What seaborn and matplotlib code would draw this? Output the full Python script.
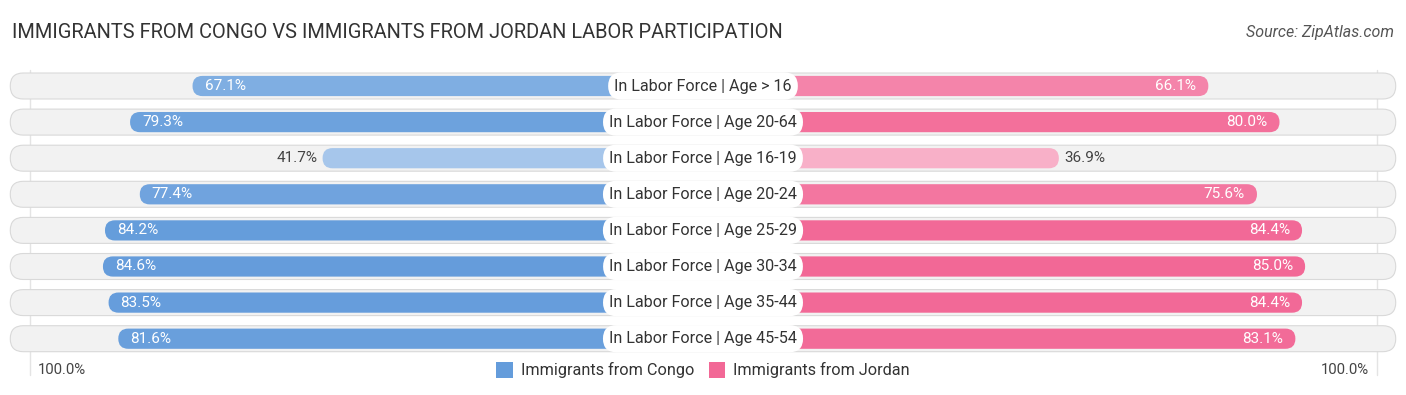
import pandas as pd
import numpy as np
import matplotlib.pyplot as plt
import matplotlib.colors as mcolors
from matplotlib.patches import FancyBboxPatch, Patch
import seaborn as sns

# data
categories = [
    "In Labor Force | Age > 16",
    "In Labor Force | Age 20-64",
    "In Labor Force | Age 16-19",
    "In Labor Force | Age 20-24",
    "In Labor Force | Age 25-29",
    "In Labor Force | Age 30-34",
    "In Labor Force | Age 35-44",
    "In Labor Force | Age 45-54",
]
congo = [67.1, 79.3, 41.7, 77.4, 84.2, 84.6, 83.5, 81.6]
jordan = [66.1, 80.0, 36.9, 75.6, 84.4, 85.0, 84.4, 83.1]
series_names = ["Immigrants from Congo", "Immigrants from Jordan"]

title = "IMMIGRANTS FROM CONGO VS IMMIGRANTS FROM JORDAN LABOR PARTICIPATION"
source = "Source: ZipAtlas.com"

# layout (x in percent units, 1 unit ~ 5.12 px; bars start behind the label)
OFFSET = 32.6
BLUE_STRONG, BLUE_LIGHT = "#649cdb", "#b0cdee"
PINK_STRONG, PINK_LIGHT = "#f26896", "#f8b3ca"


def shade(strong, light, v):
    t = np.clip((85 - v) / (85 - 35), 0, 1)
    a = np.array(mcolors.to_rgb(strong))
    b = np.array(mcolors.to_rgb(light))
    return tuple(a + (b - a) * t)


rows = []
for cat, c, j in zip(categories, congo, jordan):
    rows.append({"label": cat, "series": series_names[0], "value": c, "length": -(OFFSET + c)})
    rows.append({"label": cat, "series": series_names[1], "value": j, "length": OFFSET + j})
df = pd.DataFrame(rows)

sns.set_style("white")
plt.rcParams["font.family"] = ["Roboto", "DejaVu Sans"]

fig = plt.figure(figsize=(14.06, 3.95), dpi=100)
ax = fig.add_axes([0, 0, 1, 1])

sns.barplot(data=df, y="label", x="length", hue="series", orient="h", dodge=False,
            width=0.56, palette=[BLUE_STRONG, PINK_STRONG], legend=False, ax=ax)

px = 5.12          # pixels per x unit
py = 36.1          # pixels per row
aspect = px / py

ax.set_xlim(-703 / px, 703 / px)
ax.set_ylim((395 - 86) / py, -86 / py)
ax.axis("off")

# 100% guide lines
for xv in (-(703 - 30) / px, (1377 - 703) / px):
    ax.plot([xv, xv], [-0.45, 8.0], color="#e4e4e4", lw=1, zorder=0)

# background tracks
for i in range(len(categories)):
    track = FancyBboxPatch((-135.3, i - 0.36), 270.6, 0.72,
                           boxstyle="round,pad=0,rounding_size=%f" % (13 / px),
                           mutation_aspect=aspect, fc="#f2f2f2", ec="#d9d9d9",
                           lw=0.8, zorder=1)
    ax.add_patch(track)

# replace seaborn rectangles with rounded bars
bars = list(ax.patches)
for p in bars:
    if isinstance(p, FancyBboxPatch):
        continue
    x0, y0, w, h = p.get_x(), p.get_y(), p.get_width(), p.get_height()
    if w == 0:
        continue
    i = int(round(y0 + h / 2))
    if x0 + w / 2 < 0:
        col = shade(BLUE_STRONG, BLUE_LIGHT, congo[i])
    else:
        col = shade(PINK_STRONG, PINK_LIGHT, jordan[i])
    left = min(x0, x0 + w)
    rb = FancyBboxPatch((left, y0), abs(w), h,
                        boxstyle="round,pad=0,rounding_size=%f" % (10 / px),
                        mutation_aspect=aspect, fc=col, ec="none", zorder=2)
    ax.add_patch(rb)
    p.remove()

# value labels
pad = 12 / px
for i, (c, j) in enumerate(zip(congo, jordan)):
    xl = -(OFFSET + c)
    if c > 50:
        ax.text(xl + pad, i, f"{c:.1f}%", ha="left", va="center", color="white",
                fontsize=11, zorder=4)
    else:
        ax.text(xl - 5 / px, i, f"{c:.1f}%", ha="right", va="center", color="#444444",
                fontsize=11, zorder=4)
    xr = OFFSET + j
    if j > 50:
        ax.text(xr - pad, i, f"{j:.1f}%", ha="right", va="center", color="white",
                fontsize=11, zorder=4)
    else:
        ax.text(xr + 5 / px, i, f"{j:.1f}%", ha="left", va="center", color="#444444",
                fontsize=11, zorder=4)
    ax.text(0, i, categories[i], ha="center", va="center", color="#333333",
            fontsize=11.6, zorder=5,
            bbox=dict(boxstyle="round,pad=0.38,rounding_size=0.85", fc="white", ec="none"))

# axis end labels
ax.text(-(703 - 38) / px, 7.87, "100.0%", ha="left", va="center", fontsize=10.7, color="#444444")
ax.text((1369 - 703) / px, 7.87, "100.0%", ha="right", va="center", fontsize=10.7, color="#444444")

# title & source
fig.text(12 / 1406, 1 - 33 / 395, title, ha="left", va="center", fontsize=14.4, color="#333333")
fig.text(1394 / 1406, 1 - 33 / 395, source, ha="right", va="center", fontsize=11.5,
         color="#555555", style="italic")

handles = [Patch(fc=shade(BLUE_STRONG, BLUE_LIGHT, 85), ec="none", label=series_names[0]),
           Patch(fc=shade(PINK_STRONG, PINK_LIGHT, 85), ec="none", label=series_names[1])]
fig.legend(handles=handles, loc="center", bbox_to_anchor=(0.5, 1 - 370 / 395), ncol=2,
           frameon=False, fontsize=11.7, handlelength=1.0, handleheight=1.2,
           handletextpad=0.5, columnspacing=0.9, labelcolor="#333333")

fig.savefig("out.png", dpi=100)
